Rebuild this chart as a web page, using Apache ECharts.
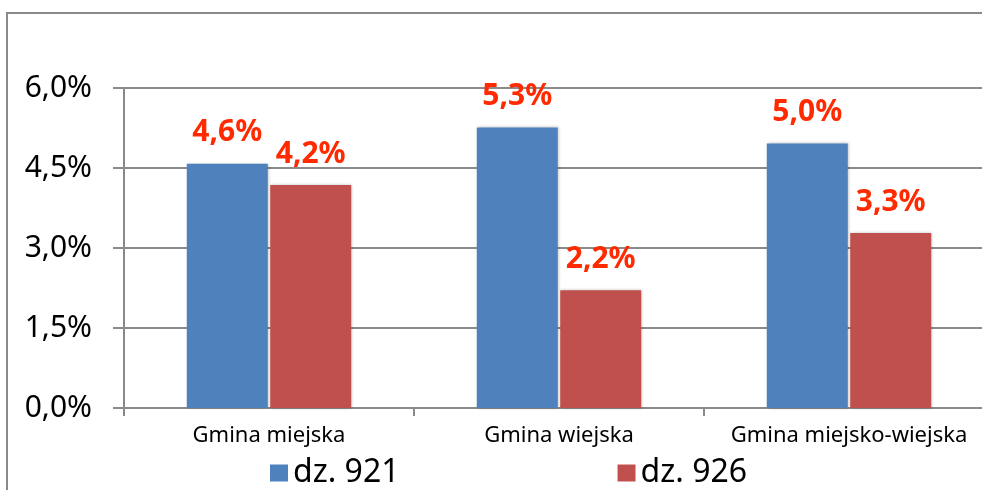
<!DOCTYPE html>
<html>
<head>
<meta charset="utf-8">
<script src="https://cdn.jsdelivr.net/npm/echarts@6/dist/echarts.min.js"></script>
<style>
  html, body { margin: 0; padding: 0; background: #fff; overflow: hidden; }
  #chart { width: 1000px; height: 490px; }
</style>
</head>
<body>
<div id="chart"></div>
<script>
// kategorie i wartości (w %)
var categories = ['Gmina miejska', 'Gmina wiejska', 'Gmina miejsko-wiejska'];
var dz921 = [4.58, 5.26, 4.96];
var dz926 = [4.18, 2.21, 3.28];
var seriesNames = ['dz. 921', 'dz. 926'];

var myChart = echarts.init(document.getElementById('chart'));

var labelStyle = {
    show: true,
    position: 'top',
    distance: 16,
    color: '#ff2a00',
    fontWeight: 'bold',
    fontSize: 30,
    fontFamily: 'Noto Sans',
    formatter: function (p) {
        return p.value.toFixed(1).replace('.', ',') + '%';
    }
};

var option = {
    backgroundColor: '#fff',
    animation: false,
    graphic: [{
        type: 'polyline',
        shape: { points: [[7, 495], [7, 13], [1000, 13]] },
        style: { stroke: '#8a8a8a', lineWidth: 2, fill: null }
    }],
    legend: {
        left: 265,
        top: 452,
        itemWidth: 18,
        itemHeight: 17,
        itemGap: 218,
        icon: 'rect',
        textStyle: { fontSize: 32, fontFamily: 'Noto Sans', color: '#000' },
        data: seriesNames
    },
    grid: {
        left: 124,
        top: 88,
        width: 870,
        height: 320
    },
    xAxis: {
        type: 'category',
        data: categories,
        axisLine: { lineStyle: { color: '#8a8a8a', width: 2 } },
        axisTick: { show: true, length: 8, lineStyle: { color: '#8a8a8a', width: 2 } },
        axisLabel: { interval: 0, margin: 17, fontSize: 22, fontFamily: 'Noto Sans', color: '#000' }
    },
    yAxis: {
        type: 'value',
        min: 0,
        max: 6,
        interval: 1.5,
        axisLine: { show: true, lineStyle: { color: '#8a8a8a', width: 2 } },
        axisTick: { show: true, length: 11, lineStyle: { color: '#8a8a8a', width: 2 } },
        splitLine: { show: true, lineStyle: { color: '#8a8a8a', width: 2 } },
        axisLabel: {
            margin: 32,
            fontSize: 30,
            fontFamily: 'Noto Sans',
            color: '#000',
            formatter: function (v) {
                return v.toFixed(1).replace('.', ',') + '%';
            }
        }
    },
    series: [
        {
            name: seriesNames[0],
            type: 'bar',
            data: dz921,
            barWidth: 81,
            barGap: '3%',
            itemStyle: {
                color: '#4f81bd',
                shadowColor: 'rgba(0,0,0,0.25)',
                shadowBlur: 3,
                shadowOffsetX: 1
            },
            label: labelStyle
        },
        {
            name: seriesNames[1],
            type: 'bar',
            data: dz926,
            barWidth: 81,
            itemStyle: {
                color: '#c0504d',
                shadowColor: 'rgba(0,0,0,0.25)',
                shadowBlur: 3,
                shadowOffsetX: 1
            },
            label: labelStyle
        }
    ]
};
myChart.setOption(option);
</script>
</body>
</html>
